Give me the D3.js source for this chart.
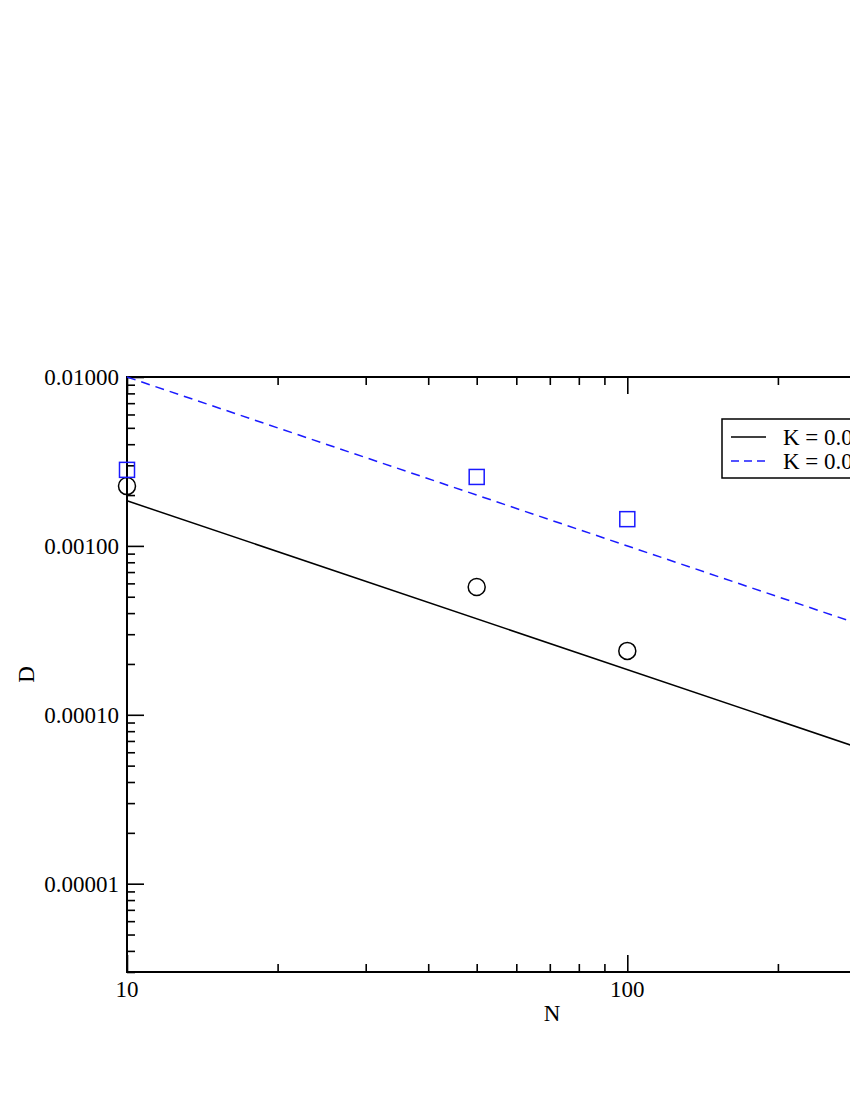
<!DOCTYPE html>
<html lang="en">
    <head>
        <meta charset="UTF-8" />
        <title>D vs N</title>
        <style>
            body { margin: 0; background: white; }
            svg text { font-family: "Liberation Serif", "DejaVu Serif", serif; fill: black; }
        </style>
    </head>
    <body>
        <div id="chart"></div>
        <script src="https://d3js.org/d3.v7.min.js"></script>
        <script>
            // data
            var nValues = [10, 50, 100];
            var dK1 = [0.00226, 0.000571, 0.000239];   // circles
            var dK2 = [0.00282, 0.00256, 0.00144];     // squares
            // fitted lines, endpoints only
            var fitN = [10, 500];
            var fitK1 = [0.00185, 0.000037];
            var fitK2 = [0.01, 0.0002];
            var legendLabels = ["K = 0.01", "K = 0.05"];
            var xTicks = [10, 100];
            var yTicks = [0.00001, 0.0001, 0.001, 0.01];
            var yTickLabels = ["0.00001", "0.00010", "0.00100", "0.01000"];

            var W = 850, H = 1100;
            var pLeft = 127, pRight = 977, pTop = 377, pBottom = 972;
            var blue = "#1a1aff";

            var svg = d3.select("#chart").append("svg")
                .attr("width", W)
                .attr("height", H);

            var x = d3.scaleLog().domain([10, 500]).range([pLeft, pRight]);
            var y = d3.scaleLog().domain([0.000003, 0.01]).range([pBottom, pTop]);

            // minor tick values
            var xMinor = [];
            [10, 100].forEach(function(b) {
                for (var i = 2; i <= 9; i++) if (b * i <= 500) xMinor.push(b * i);
            });
            var yMinor = [];
            [0.000001, 0.00001, 0.0001, 0.001].forEach(function(b) {
                for (var i = 2; i <= 9; i++) {
                    var v = b * i;
                    if (v >= 0.000003 && v < 0.01) yMinor.push(v);
                }
            });

            function drawAxis(axisFn, scale, vals, size, transform) {
                svg.append("g")
                    .attr("transform", transform)
                    .call(axisFn(scale).tickValues(vals).tickSize(size).tickFormat(""))
                    .call(function(g) {
                        g.select(".domain").remove();
                        g.selectAll("line").attr("stroke", "black").attr("stroke-width", 1.6);
                    });
            }

            // bottom and top (ticks pointing inward)
            drawAxis(d3.axisTop, x, xTicks, 17, "translate(0," + pBottom + ")");
            drawAxis(d3.axisTop, x, xMinor, 8, "translate(0," + pBottom + ")");
            drawAxis(d3.axisBottom, x, xTicks, 17, "translate(0," + pTop + ")");
            drawAxis(d3.axisBottom, x, xMinor, 8, "translate(0," + pTop + ")");
            // left and right
            drawAxis(d3.axisRight, y, yTicks, 17, "translate(" + pLeft + ",0)");
            drawAxis(d3.axisRight, y, yMinor, 8, "translate(" + pLeft + ",0)");
            drawAxis(d3.axisLeft, y, yTicks, 17, "translate(" + pRight + ",0)");
            drawAxis(d3.axisLeft, y, yMinor, 8, "translate(" + pRight + ",0)");

            // frame
            svg.append("rect")
                .attr("x", pLeft).attr("y", pTop)
                .attr("width", pRight - pLeft).attr("height", pBottom - pTop)
                .attr("fill", "none").attr("stroke", "black").attr("stroke-width", 2);

            // tick labels
            svg.append("g").selectAll("text")
                .data(xTicks).enter().append("text")
                .attr("x", function(d) { return x(d); })
                .attr("y", pBottom + 25)
                .attr("text-anchor", "middle")
                .style("font-size", "23px")
                .text(function(d) { return d; });

            svg.append("g").selectAll("text")
                .data(yTicks).enter().append("text")
                .attr("x", pLeft - 8)
                .attr("y", function(d) { return y(d) + 8; })
                .attr("text-anchor", "end")
                .style("font-size", "23px")
                .text(function(d, i) { return yTickLabels[i]; });

            // axis titles
            svg.append("text")
                .attr("x", (pLeft + pRight) / 2)
                .attr("y", 1021)
                .attr("text-anchor", "middle")
                .style("font-size", "23px")
                .text("N");
            svg.append("text")
                .attr("transform", "translate(34," + ((pTop + pBottom) / 2) + ") rotate(-90)")
                .attr("text-anchor", "middle")
                .style("font-size", "23px")
                .text("D");

            // fitted lines
            var line = d3.line()
                .x(function(d) { return x(d[0]); })
                .y(function(d) { return y(d[1]); });

            svg.append("path")
                .datum(d3.zip(fitN, fitK1))
                .attr("fill", "none")
                .attr("stroke", "black")
                .attr("stroke-width", 1.5)
                .attr("d", line);

            svg.append("path")
                .datum(d3.zip(fitN, fitK2))
                .attr("fill", "none")
                .attr("stroke", blue)
                .attr("stroke-width", 1.5)
                .attr("stroke-dasharray", "9,6")
                .attr("d", line);

            // points
            svg.append("g").selectAll("circle")
                .data(d3.zip(nValues, dK1)).enter().append("circle")
                .attr("cx", function(d) { return x(d[0]); })
                .attr("cy", function(d) { return y(d[1]); })
                .attr("r", 8.5)
                .attr("fill", "none")
                .attr("stroke", "black")
                .attr("stroke-width", 1.5);

            svg.append("g").selectAll("rect")
                .data(d3.zip(nValues, dK2)).enter().append("rect")
                .attr("x", function(d) { return x(d[0]) - 7.5; })
                .attr("y", function(d) { return y(d[1]) - 7.5; })
                .attr("width", 15)
                .attr("height", 15)
                .attr("fill", "none")
                .attr("stroke", blue)
                .attr("stroke-width", 1.5);

            // legend
            var lg = svg.append("g").attr("transform", "translate(722,419)");
            lg.append("rect")
                .attr("width", 200).attr("height", 59)
                .attr("fill", "white").attr("stroke", "black").attr("stroke-width", 1.5);
            var rows = lg.selectAll("g.row")
                .data(legendLabels).enter().append("g")
                .attr("class", "row")
                .attr("transform", function(d, i) { return "translate(0," + (18 + i * 24) + ")"; });
            rows.append("line")
                .attr("x1", 9).attr("x2", 44)
                .attr("stroke", function(d, i) { return i === 0 ? "black" : blue; })
                .attr("stroke-width", 1.5)
                .attr("stroke-dasharray", function(d, i) { return i === 0 ? null : "8,5"; });
            rows.append("text")
                .attr("x", 61)
                .attr("y", 8)
                .style("font-size", "23px")
                .text(function(d) { return d; });
        </script>
    </body>
</html>
